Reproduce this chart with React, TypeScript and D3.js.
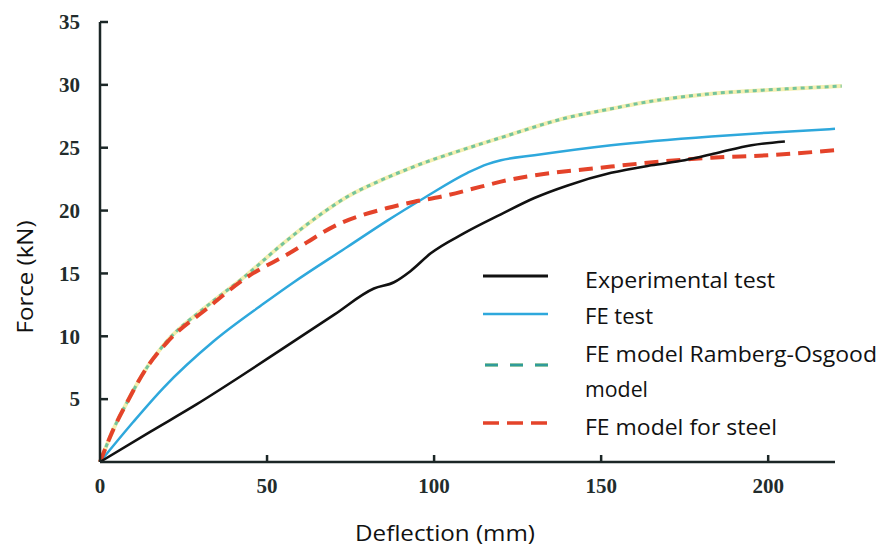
import React from "react";
import * as d3 from "d3";

const W = 880;
const H = 551;

const xTicks = [0, 50, 100, 150, 200];
const yTicks = [5, 10, 15, 20, 25, 30, 35];

const expX = [0, 15, 29, 42, 54, 70, 82, 88, 93, 99, 109, 120, 130, 140, 153, 165, 175, 185, 195, 205];
const expY = [0, 2.4, 4.6, 6.8, 8.9, 11.7, 13.8, 14.3, 15.2, 16.6, 18.2, 19.7, 21.0, 22.0, 23.0, 23.6, 24.0, 24.6, 25.2, 25.5];

const feX = [0, 10, 19, 34, 49, 58, 74, 86, 97, 110, 116, 120, 130, 153, 183, 200, 220];
const feY = [0, 3.2, 5.9, 9.6, 12.6, 14.3, 17.1, 19.2, 21.0, 23.0, 23.7, 24.0, 24.4, 25.2, 25.9, 26.2, 26.5];

const roX = [0, 4, 8, 14, 20, 32, 44, 54, 64, 74, 84, 94, 114, 120, 140, 153, 165, 183, 200, 222];
const roY = [0, 2.6, 4.7, 7.5, 9.6, 12.4, 14.9, 17.2, 19.3, 21.1, 22.4, 23.5, 25.3, 25.8, 27.4, 28.1, 28.7, 29.3, 29.6, 29.9];

const stX = [0, 4, 8, 14, 20, 32, 44, 56, 72, 86, 94, 102, 114, 120, 153, 183, 200, 220];
const stY = [0, 2.6, 4.7, 7.5, 9.5, 12.2, 14.7, 16.5, 19.0, 20.2, 20.7, 21.1, 21.9, 22.3, 23.5, 24.2, 24.4, 24.8];

const legendLabels = ["Experimental test", "FE test", "FE model Ramberg-Osgood", "model", "FE model for steel"];
const legendBaselines = [288, 324, 362, 397, 435];
const legendWidths = [190, 68, 292, 63, 192];

const x = d3.scaleLinear().domain([0, 220]).range([100, 835]);
const y = d3.scaleLinear().domain([0, 35]).range([462, 22]);

const zip = (xs: number[], ys: number[]) => xs.map((v, i) => [v, ys[i]] as [number, number]);

const line = d3
  .line<[number, number]>()
  .x((d) => x(d[0]))
  .y((d) => y(d[1]))
  .curve(d3.curveMonotoneX);

const tickFont = "'Liberation Serif', serif";
const textFont = "'Open Sans', sans-serif";

export default function App() {
  const expD = line(zip(expX, expY)) || "";
  const feD = line(zip(feX, feY)) || "";
  const roD = line(zip(roX, roY)) || "";
  const stD = line(zip(stX, stY)) || "";
  return (
    <svg width={W} height={H} style={{ position: "absolute", left: 0, top: 0, background: "#fff" }}>
      <rect x={0} y={0} width={W} height={H} fill="#fff" />
      {/* data lines */}
      <path d={roD} fill="none" stroke="#f4efb0" strokeWidth={4} />
      <path d={roD} fill="none" stroke="#74c49c" strokeWidth={3} strokeDasharray="4,4" />
      <path d={feD} fill="none" stroke="#2ea8dc" strokeWidth={2.5} />
      <path d={stD} fill="none" stroke="#e4432a" strokeWidth={4} strokeDasharray="14,8" />
      <path d={expD} fill="none" stroke="#111" strokeWidth={2.6} />

      {/* axes */}
      <line x1={x(0)} x2={x(0)} y1={y(0)} y2={y(35)} stroke="#1b2626" strokeWidth={2.5} />
      <line x1={x(0)} x2={x(220)} y1={y(0)} y2={y(0)} stroke="#1b2626" strokeWidth={2.5} />
      {yTicks.map((t) => (
        <g key={"y" + t}>
          <line x1={x(0)} x2={x(0) + 8} y1={y(t)} y2={y(t)} stroke="#1b2626" strokeWidth={2.5} />
          <text
            x={80}
            y={y(t)}
            dy="0.35em"
            textAnchor="end"
            fontFamily={tickFont}
            fontWeight="bold"
            fontSize={21}
            fill="#222c2c"
          >
            {t}
          </text>
        </g>
      ))}
      {xTicks.map((t) => (
        <g key={"x" + t}>
          {t > 0 && (
            <line x1={x(t)} x2={x(t)} y1={y(0)} y2={y(0) - 7} stroke="#1b2626" strokeWidth={2.5} />
          )}
          <text
            x={x(t)}
            y={493}
            textAnchor="middle"
            fontFamily={tickFont}
            fontWeight="bold"
            fontSize={21}
            fill="#222c2c"
          >
            {t}
          </text>
        </g>
      ))}

      {/* axis titles */}
      <text
        x={445}
        y={541}
        textAnchor="middle"
        fontFamily={textFont}
        fontSize={21}
        fill="#111"
        textLength={180}
        lengthAdjust="spacingAndGlyphs"
      >
        Deflection (mm)
      </text>
      <text
        transform={`translate(33,277) rotate(-90)`}
        textAnchor="middle"
        fontFamily={textFont}
        fontSize={21}
        fill="#111"
        textLength={113}
        lengthAdjust="spacingAndGlyphs"
      >
        Force (kN)
      </text>

      {/* legend */}
      <line x1={483} x2={548} y1={276} y2={276} stroke="#111" strokeWidth={3} />
      <line x1={483} x2={548} y1={314} y2={314} stroke="#2ea8dc" strokeWidth={2.5} />
      <line x1={485} x2={548} y1={365} y2={365} stroke="#f4efb0" strokeWidth={4} strokeDasharray="13,12" />
      <line x1={485} x2={548} y1={365} y2={365} stroke="#2f9c9a" strokeWidth={3} strokeDasharray="13,12" />
      <line x1={483} x2={548} y1={423} y2={423} stroke="#e4432a" strokeWidth={3.5} strokeDasharray="16,8" />
      {legendLabels.map((lab, i) => (
        <text
          key={lab}
          x={585}
          y={legendBaselines[i]}
          fontFamily={textFont}
          fontSize={21}
          fill="#111"
          textLength={legendWidths[i]}
          lengthAdjust="spacingAndGlyphs"
        >
          {lab}
        </text>
      ))}
    </svg>
  );
}
